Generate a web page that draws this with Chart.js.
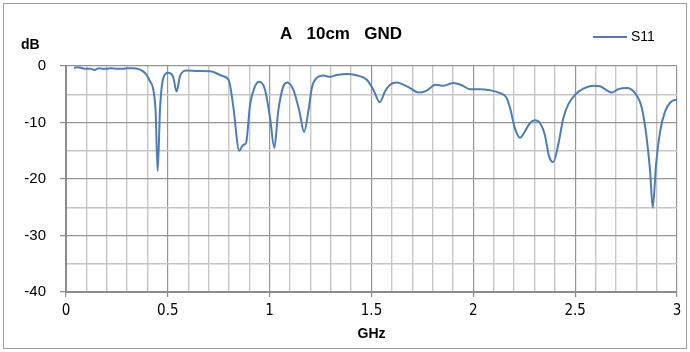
<!DOCTYPE html>
<html>
<head>
<meta charset="utf-8">
<script src="https://cdn.jsdelivr.net/npm/chart.js@4"></script>
<style>
  html, body { margin: 0; padding: 0; background: #fff; }
  #wrap { width: 690px; height: 352px; position: relative; }
</style>
</head>
<body>
<div id="wrap"><canvas id="chS11" width="690" height="352"></canvas></div>
<script>
// S11 sweep, 0-3 GHz
const chartTitle = 'A   10cm   GND';
const seriesName = 'S11';

const freqGHz = [
  0.039, 0.06, 0.08, 0.10, 0.12, 0.14, 0.16, 0.18, 0.20, 0.22,
  0.25, 0.28, 0.30, 0.33, 0.36, 0.38, 0.396, 0.412, 0.427, 0.44,
  0.450, 0.462, 0.478, 0.501, 0.525, 0.543, 0.56, 0.593, 0.65, 0.707,
  0.77, 0.80, 0.82, 0.851, 0.869, 0.884, 0.904, 0.928, 0.949, 0.977,
  1.002, 1.023, 1.042, 1.067, 1.087, 1.116, 1.146, 1.169, 1.19, 1.207,
  1.231, 1.264, 1.296, 1.329, 1.378, 1.427, 1.476, 1.509, 1.541, 1.566,
  1.591, 1.624, 1.656, 1.689, 1.730, 1.763, 1.788, 1.812, 1.853, 1.902,
  1.943, 1.984, 2.033, 2.082, 2.131, 2.161, 2.180, 2.204, 2.229, 2.253,
  2.278, 2.302, 2.327, 2.351, 2.372, 2.392, 2.417, 2.442, 2.466, 2.499,
  2.540, 2.589, 2.622, 2.655, 2.679, 2.712, 2.753, 2.794, 2.827, 2.851,
  2.868, 2.881, 2.897, 2.917, 2.942, 2.966, 2.991, 3.0
];

const s11dB = [
  -0.3, -0.2, -0.4, -0.5, -0.5, -0.7, -0.4, -0.5, -0.5, -0.4,
  -0.5, -0.5, -0.4, -0.4, -0.6, -1.0, -1.6, -2.7, -3.9, -8.0,
  -18.6, -7.4, -2.1, -1.2, -1.8, -4.5, -1.8, -0.8, -0.9, -0.95,
  -1.8, -2.6, -6.8, -15.0, -14.0, -13.6, -6.8, -3.6, -2.8, -4.2,
  -9.2, -14.5, -8.0, -3.6, -2.9, -4.2, -8.0, -11.7, -8.0, -3.9,
  -2.1, -1.7, -1.9, -1.6, -1.4, -1.65, -2.4, -4.2, -6.4, -4.5,
  -3.3, -2.9, -3.3, -3.9, -4.7, -4.5, -3.9, -3.3, -3.5, -3.0,
  -3.4, -4.1, -4.1, -4.3, -4.8, -5.5, -7.4, -11.0, -12.7, -11.6,
  -10.1, -9.6, -10.1, -12.2, -16.0, -17.0, -13.9, -9.2, -6.8, -5.1,
  -4.0, -3.5, -3.6, -4.3, -4.7, -4.1, -3.9, -4.8, -7.4, -12.7,
  -18.6, -25.1, -17.5, -11.6, -8.0, -6.5, -6.0, -6.0
];

const lineColor = '#4a7ebb';
const majorGrid = '#959595';
const minorGrid = '#c6c6c6';

function isMultiple(v, step) {
  const r = v / step;
  return Math.abs(r - Math.round(r)) < 1e-6;
}

// extra text: frame, title, unit label and legend
const decor = {
  id: 'decor',
  beforeDraw(chart) {
    const c = chart.ctx;
    c.save();
    c.fillStyle = '#fff';
    c.fillRect(0, 0, chart.width, chart.height);
    c.restore();
  },
  afterDraw(chart) {
    const c = chart.ctx;
    c.save();
    c.strokeStyle = '#a0a0a0';
    c.lineWidth = 1;
    c.strokeRect(3.5, 3.5, 683, 345);

    c.fillStyle = '#000';
    c.textBaseline = 'middle';
    c.textAlign = 'center';
    c.font = 'bold 17px "Liberation Sans", Arial, sans-serif';
    c.fillText(chartTitle, 341, 34);

    c.textAlign = 'left';
    c.font = 'bold 14px "Liberation Sans", Arial, sans-serif';
    c.fillText('dB', 21, 45);

    c.strokeStyle = lineColor;
    c.lineWidth = 2;
    c.beginPath();
    c.moveTo(593, 37);
    c.lineTo(627, 37);
    c.stroke();
    c.font = '14px "Liberation Sans", Arial, sans-serif';
    c.fillText(seriesName, 631, 37);
    c.restore();
  }
};

const ctx = document.getElementById('chS11').getContext('2d');
new Chart(ctx, {
  type: 'line',
  data: {
    datasets: [{
      label: seriesName,
      data: freqGHz.map((f, i) => ({ x: f, y: s11dB[i] })),
      borderColor: lineColor,
      borderWidth: 2,
      pointRadius: 0,
      cubicInterpolationMode: 'monotone',
      fill: false
    }]
  },
  options: {
    responsive: false,
    animation: false,
    layout: { padding: { left: 0, top: 66, right: 13, bottom: 0 } },
    plugins: {
      legend: { display: false },
      title: { display: false },
      tooltip: { enabled: false }
    },
    scales: {
      x: {
        type: 'linear',
        min: 0,
        max: 3,
        afterFit(scale) { scale.height = 60; },
        border: { color: '#8c8c8c', width: 2 },
        grid: {
          color: (c) => isMultiple(c.tick.value, 0.5) ? majorGrid : minorGrid,
          tickColor: (c) => isMultiple(c.tick.value, 0.5) ? '#8c8c8c' : 'rgba(0,0,0,0)',
          tickLength: 5,
          lineWidth: (c) => isMultiple(c.tick.value, 0.5) ? 1.2 : 1.4
        },
        ticks: {
          stepSize: 0.1,
          autoSkip: false,
          maxRotation: 0,
          padding: 5,
          color: '#000',
          font: { family: '"Liberation Sans Narrow", "DejaVu Sans Condensed", sans-serif', size: 15 },
          callback: (v) => isMultiple(v, 0.5) ? String(Math.round(v * 10) / 10) : ''
        },
        title: {
          display: true,
          text: 'GHz',
          color: '#000',
          font: { family: '"Liberation Sans", Arial, sans-serif', size: 14, weight: 'bold' },
          padding: { top: 0, bottom: 9 }
        }
      },
      y: {
        min: -40,
        max: 0,
        afterFit(scale) { scale.width = 66; },
        border: { color: '#8c8c8c', width: 2 },
        grid: {
          color: (c) => isMultiple(c.tick.value, 10) ? majorGrid : minorGrid,
          tickColor: (c) => isMultiple(c.tick.value, 10) ? '#8c8c8c' : 'rgba(0,0,0,0)',
          tickLength: 6,
          lineWidth: (c) => isMultiple(c.tick.value, 10) ? 1.2 : 1.4
        },
        ticks: {
          stepSize: 5,
          autoSkip: false,
          padding: 14,
          color: '#000',
          font: { family: '"Liberation Sans", Arial, sans-serif', size: 15 },
          callback: (v) => isMultiple(v, 10) ? String(v) : ''
        }
      }
    }
  },
  plugins: [decor]
});
</script>
</body>
</html>
